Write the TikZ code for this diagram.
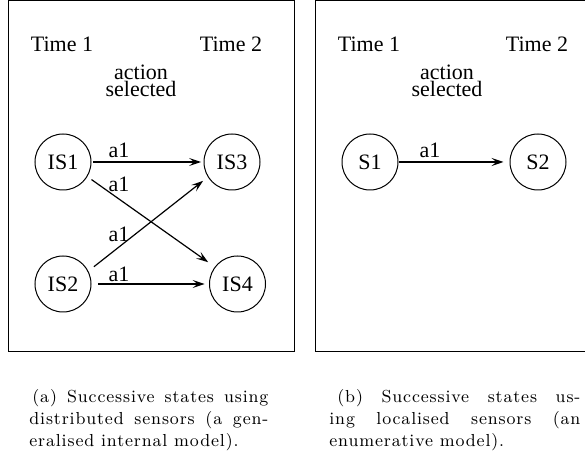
\documentclass[tikz,border=0pt]{standalone}
\usepackage{fontspec}
\newfontfamily\figfont{Liberation Serif}
\newfontfamily\capfont[LetterSpace=5]{Latin Modern Roman}
\usetikzlibrary{arrows.meta}
\begin{document}
\begin{tikzpicture}[x=0.5pt,y=-0.5pt,
  panel/.style={line width=0.5pt},
  state/.style={circle,draw,line width=0.5pt,minimum size=28pt,inner sep=0pt,font=\figfont\fontsize{11}{13}\selectfont},
  lbl/.style={anchor=base,inner sep=0pt,font=\figfont\fontsize{11}{13}\selectfont},
  twoline/.style={anchor=north,inner sep=0pt,align=center,font=\figfont\fontsize{11}{8.3}\selectfont},
  trans/.style={line width=0.6pt,-{Stealth[length=6pt,width=4pt,inset=2.5pt]}},
  captext/.style={anchor=base west,inner sep=0pt,align=justify,font=\capfont\fontsize{8.7}{11}\selectfont}]
\useasboundingbox (0,0) rectangle (585,460);
% panels
\draw[panel] (8.5,0.5) rectangle (294,352);
\draw[panel] (315,0.5) rectangle (600,352);
% left panel
\node[lbl] (t1a) at (62,51.5) {Time 1};
\node[lbl] (t2a) at (231,51.5) {Time 2};
\node[twoline] (acta) at (141,65) {action\\selected};
\node[state] (IS1) at (63,162) {IS1};
\node[state] (IS3) at (232,162) {IS3};
\node[state] (IS2) at (63,284) {IS2};
\node[state] (IS4) at (237.5,284) {IS4};
\draw[trans, shorten <=0.8pt, shorten >=1.2pt] (IS1) -- (IS3);
\draw[trans, shorten <=2.5pt, shorten >=4pt] (IS1.-31) -- (IS4.143);
\draw[trans, shorten <=3.5pt, shorten >=3pt] (IS2.27) -- (IS3.212);
\draw[trans, shorten <=3.3pt, shorten >=2.2pt] (IS2) -- (IS4);
\node[lbl] (l13) at (119,158) {a1};
\node[lbl] (l14) at (119,191.5) {a1};
\node[lbl] (l23) at (119,241.5) {a1};
\node[lbl] (l24) at (119,281.5) {a1};
% right panel
\node[lbl] (t1b) at (369,51.5) {Time 1};
\node[lbl] (t2b) at (537,51.5) {Time 2};
\node[twoline] (actb) at (447,65) {action\\selected};
\node[state] (S1) at (370,162) {S1};
\node[state] (S2) at (538,162) {S2};
\draw[trans, shorten <=0.3pt, shorten >=3pt] (S1) -- (S2);
\node[lbl] (lb) at (430,158) {a1};
% captions
\node[captext, text width=119.5pt] (capa) at (29,403)
  {\hspace*{1.5pt}(a) Successive states using\linebreak distributed sensors (a gen-\linebreak eralised internal model).};
\node[captext, text width=125.5pt] (capb) at (329,403)
  {\hspace*{4pt}(b) Successive states us-\linebreak ing localised sensors (an\linebreak enumerative model).};
\end{tikzpicture}
\end{document}
